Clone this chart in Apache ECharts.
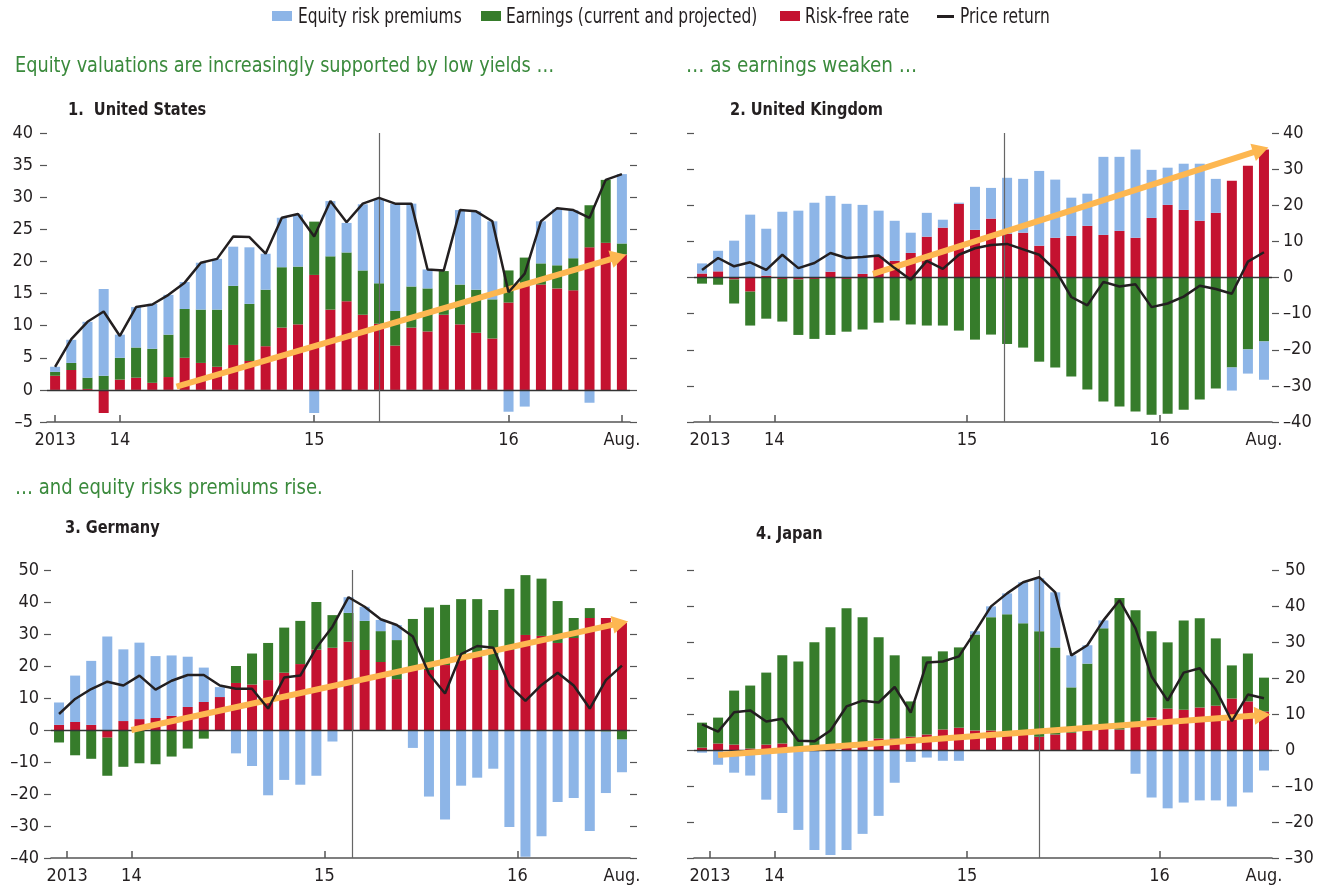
<!DOCTYPE html>
<html>
<head>
<meta charset="utf-8">
<title>Equity valuations</title>
<script src="https://cdn.jsdelivr.net/npm/echarts@6/dist/echarts.min.js"></script>
<style>
  html, body { margin: 0; padding: 0; background: #fff; }
  #chart { width: 1332px; height: 890px; }
</style>
</head>
<body>
<div id="chart"></div>
<script>
const months = [
  'Sep 2013', 'Oct 2013', 'Nov 2013', 'Dec 2013',
  'Jan 2014', 'Feb 2014', 'Mar 2014', 'Apr 2014', 'May 2014', 'Jun 2014',
  'Jul 2014', 'Aug 2014', 'Sep 2014', 'Oct 2014', 'Nov 2014', 'Dec 2014',
  'Jan 2015', 'Feb 2015', 'Mar 2015', 'Apr 2015', 'May 2015', 'Jun 2015',
  'Jul 2015', 'Aug 2015', 'Sep 2015', 'Oct 2015', 'Nov 2015', 'Dec 2015',
  'Jan 2016', 'Feb 2016', 'Mar 2016', 'Apr 2016', 'May 2016', 'Jun 2016',
  'Jul 2016', 'Aug 2016'
]
const tickLabels = ['2013', '14', '15', '16', 'Aug.']

// United States
const usRiskFree = [2.2, 3.1, 0.15, -3.6, 1.6, 1.9, 1.1, 2.0, 5.0, 4.2, 3.6, 7.0, 4.5, 6.8, 9.7, 10.2, 17.9, 12.5,
  13.8, 11.7, 10.3, 6.9, 9.7, 9.1, 11.7, 10.2, 8.9, 8.0, 13.6, 16.2, 16.4, 15.8, 15.5, 22.2, 22.9, 21.1]
const usEarnings = [0.6, 1.1, 1.75, 2.2, 3.4, 4.7, 5.3, 6.6, 7.6, 8.3, 8.9, 9.2, 8.9, 8.8, 9.4, 9.0, 8.3, 8.3,
  7.6, 6.9, 6.3, 5.4, 6.4, 6.7, 6.8, 6.2, 6.7, 6.1, 5.0, 4.4, 3.3, 3.6, 5.0, 6.55, 9.8, 1.7]
const usPremium = [0.8, 3.6, 8.7, 13.5, 3.6, 6.3, 7.0, 6.2, 4.2, 7.3, 7.9, 6.1, 8.8, 5.6, 7.7, 8.1, -3.6, 8.6,
  4.6, 10.3, 13.1, 16.7, 12.9, 2.95, 0, 11.6, 12.2, 12.15, -3.4, -2.6, 6.55, 8.7, 7.5, -2.0, 0, 10.8]
const usPrice = [3.6, 7.9, 10.6, 12.2, 8.4, 12.9, 13.3, 14.8, 16.7, 19.8, 20.4, 23.9, 23.8, 21.2, 26.8, 27.4, 23.9, 29.4,
  26.1, 29.0, 29.9, 29.0, 29.0, 18.75, 18.6, 28.0, 27.8, 26.25, 15.2, 18.1, 26.25, 28.3, 28.0, 26.8, 32.7, 33.6]

// United Kingdom
const ukRiskFree = [1.1, 1.7, -0.55, -3.9, 0.5, -0.4, -0.55, -0.4, 1.6, -0.4, 1.0, 5.8, 4.6, 6.8, 11.3, 13.8, 20.4, 13.2,
  16.3, 12.1, 12.4, 8.8, 11.0, 11.5, 14.3, 11.8, 12.9, 11.0, 16.5, 20.1, 18.7, 15.7, 17.9, 26.8, 30.9, 35.4]
const ukEarnings = [-1.7, -2.0, -6.65, -9.4, -11.4, -11.8, -15.35, -16.6, -15.9, -14.6, -14.4, -12.5, -11.9, -13.0, -13.3, -13.3, -14.7, -17.2,
  -15.8, -18.4, -19.4, -23.3, -24.9, -27.4, -31.0, -34.3, -35.7, -37.1, -38.0, -37.7, -36.6, -33.8, -30.7, -24.9, -19.9, -17.7]
const ukPremium = [2.8, 5.7, 10.2, 17.4, 13.0, 18.2, 18.5, 20.7, 21.0, 20.4, 19.1, 12.7, 11.1, 5.6, 6.6, 2.2, 0.3, 11.9,
  8.5, 15.5, 14.9, 20.7, 16.1, 10.6, 8.9, 21.6, 20.5, 24.4, 13.3, 10.3, 12.8, 15.8, 9.4, -6.4, -6.7, -10.6]
const ukPrice = [2.1, 5.4, 3.1, 4.2, 2.1, 6.3, 2.6, 4.0, 6.8, 5.4, 5.7, 6.1, 2.6, -0.6, 4.6, 2.4, 6.3, 8.1,
  9.0, 9.3, 7.8, 6.3, 2.1, -5.4, -7.7, -1.2, -2.5, -1.9, -8.2, -7.2, -5.3, -2.3, -3.2, -4.5, 4.4, 7.0]

// Germany
const deRiskFree = [1.6, 2.5, 1.6, -2.4, 2.8, 3.4, 3.75, 4.4, 7.2, 8.75, 10.3, 14.7, 14.2, 15.6, 17.9, 20.6, 25.1, 25.7,
  27.6, 25.0, 21.25, 15.9, 18.75, 18.75, 20.3, 23.4, 22.8, 18.75, 25.0, 29.7, 29.4, 27.2, 28.75, 35.0, 35.0, 33.4]
const deEarnings = [-3.9, -7.9, -9.0, -11.9, -11.5, -10.4, -10.7, -8.3, -5.8, -2.7, 0, 5.3, 9.7, 11.6, 14.1, 13.5, 14.9, 10.2,
  9.0, 9.1, 9.65, 12.2, 15.95, 19.55, 18.8, 17.5, 18.1, 18.75, 19.1, 18.7, 17.9, 13.1, 6.25, 3.1, -0.5, -3.0]
const dePremium = [7.0, 14.5, 20.0, 29.2, 22.4, 23.9, 19.35, 18.9, 15.7, 10.75, 3.1, -7.3, -11.25, -20.4, -15.6, -17.1, -14.3, -3.6,
  4.9, 4.4, 3.5, 4.7, -5.6, -20.8, -28.0, -17.4, -14.9, -12.1, -30.3, -39.6, -33.2, -22.5, -21.25, -31.6, -19.2, -10.2]
const dePrice = [5.0, 9.7, 12.8, 15.1, 13.9, 17.0, 12.6, 15.4, 17.2, 17.2, 13.9, 12.9, 12.9, 6.7, 16.4, 17.0, 25.7, 32.3,
  41.5, 38.5, 34.6, 32.8, 29.2, 17.6, 11.4, 23.75, 26.25, 25.7, 13.9, 9.1, 14.1, 17.9, 13.9, 6.7, 15.6, 20.1]

// Japan
const jpRiskFree = [0.65, 1.8, 1.5, 0.4, 1.5, 1.8, 0.2, 0.2, 0.9, 1.2, 1.5, 3.2, 3.2, 3.7, 4.3, 5.7, 6.2, 5.4,
  5.4, 4.0, 4.3, 3.7, 4.3, 4.8, 5.4, 5.9, 5.7, 6.8, 9.0, 11.5, 11.2, 11.8, 12.3, 14.3, 13.5, 10.7]
const jpEarnings = [6.95, 7.2, 15.0, 17.5, 20.0, 24.5, 24.4, 29.7, 33.2, 38.2, 35.4, 28.1, 23.1, 9.8, 21.7, 21.7, 22.3, 26.7,
  31.5, 33.7, 30.9, 29.3, 24.2, 12.6, 18.6, 27.9, 36.5, 32.0, 24.0, 18.4, 24.8, 24.8, 18.7, 9.2, 13.3, 9.4]
const jpPremium = [-0.75, -4.1, -6.3, -7.1, -13.8, -17.5, -22.2, -27.8, -29.2, -27.8, -23.3, -18.3, -9.1, -3.3, -2.1, -3.0, -3.0, 0.9,
  3.0, 5.8, 11.4, 14.7, 15.3, 8.9, 5.1, 2.2, 0, -6.6, -13.2, -16.2, -14.6, -14.0, -14.0, -15.7, -11.8, -5.7]
const jpPrice = [7.1, 5.1, 10.5, 11.0, 7.9, 8.7, 2.6, 2.4, 5.4, 12.1, 13.7, 13.2, 17.5, 10.4, 24.3, 24.6, 26.0, 32.8,
  39.9, 43.5, 46.6, 48.0, 43.8, 26.3, 29.1, 36.0, 41.6, 33.8, 20.4, 13.7, 21.5, 22.7, 16.8, 8.0, 15.4, 14.4]

// trend arrows [start, end] in (month index, percent) and event line position
const usArrow = [[7.5, 0.5], [34.8, 20.7]]
const ukArrow = [[10.65, 1.0], [34.8, 35.3]]
const deArrow = [[4.5, 0], [34.9, 33.4]]
const jpArrow = [[1.0, -1.4], [34.9, 9.7]]
const eventLine = [20, 18.8, 18.2, 21]

const FONT = "'DejaVu Sans Condensed', 'DejaVu Sans', sans-serif"
const INK = '#231f20'
const AXIS = '#555555'
const BLUE = '#8db5e7'
const GREEN = '#367c2b'
const RED = '#c41230'
const ORANGE = '#fdb751'
const HEAD = '#3a8a3c'

const panels = [
  { title: '1.  United States', riskFree: usRiskFree, earnings: usEarnings, premium: usPremium, price: usPrice,
    arrow: usArrow, min: -5, max: 40, interval: 5, side: 'left', labelMargin: 14,
    grid: { left: 47, top: 133, width: 583, height: 289 }, titlePos: [68, 110],
    tickPos: [0, 4, 16, 28, 35], labelPos: [0, 4, 16, 28, 35] },
  { title: '2. United Kingdom', riskFree: ukRiskFree, earnings: ukEarnings, premium: ukPremium, price: ukPrice,
    arrow: ukArrow, min: -40, max: 40, interval: 10, side: 'right', labelMargin: 11,
    grid: { left: 694, top: 133, width: 578, height: 289 }, titlePos: [730, 110],
    tickPos: [0.5, 4.5, 16.5, 28.5], labelPos: [0.5, 4.5, 16.5, 28.5, 35] },
  { title: '3. Germany', riskFree: deRiskFree, earnings: deEarnings, premium: dePremium, price: dePrice,
    arrow: deArrow, min: -40, max: 50, interval: 10, side: 'left', labelMargin: 12,
    grid: { left: 51, top: 570, width: 579, height: 288 }, titlePos: [65, 528],
    tickPos: [0.5, 4.5, 16.5, 28.5], labelPos: [0.5, 4.5, 16.5, 28.5, 35] },
  { title: '4. Japan', riskFree: jpRiskFree, earnings: jpEarnings, premium: jpPremium, price: jpPrice,
    arrow: jpArrow, min: -30, max: 50, interval: 10, side: 'right', labelMargin: 13,
    grid: { left: 694, top: 570, width: 578, height: 288 }, titlePos: [756, 534],
    tickPos: [0.5, 4.5, 16.5, 28.5], labelPos: [0.5, 4.5, 16.5, 28.5, 35] }
]

function fmtY(v) {
  return v < 0 ? '\u2013' + (-v) : String(v)
}

const grids = []
const xAxes = []
const yAxes = []
const series = []

panels.forEach((p, i) => {
  grids.push(p.grid)

  xAxes.push({
    type: 'category', gridIndex: i, data: months, boundaryGap: true, show: false
  })
  xAxes.push({
    type: 'value', gridIndex: i, min: -0.5, max: 35.5, position: 'bottom',
    splitLine: { show: false },
    axisLine: { show: true, onZero: false, lineStyle: { color: AXIS, width: 1.5 } },
    axisTick: { show: true, inside: true, length: 7, customValues: p.tickPos, lineStyle: { color: AXIS, width: 1.5 } },
    axisLabel: {
      customValues: p.labelPos, color: INK, fontFamily: FONT, fontSize: 18, margin: 9,
      formatter: (v) => {
        const k = p.labelPos.findIndex(x => Math.abs(x - v) < 1e-6)
        return k >= 0 ? tickLabels[k] : ''
      }
    }
  })

  const other = p.side === 'left' ? 'right' : 'left'
  yAxes.push({
    type: 'value', gridIndex: i, position: p.side, min: p.min, max: p.max, interval: p.interval,
    splitLine: { show: false },
    axisLine: { show: false, onZero: false },
    axisTick: { show: true, length: 7, lineStyle: { color: AXIS, width: 1.2 } },
    axisLabel: { color: INK, fontFamily: FONT, fontSize: 18, margin: p.labelMargin, formatter: fmtY }
  })
  yAxes.push({
    type: 'value', gridIndex: i, position: other, min: p.min, max: p.max, interval: p.interval,
    splitLine: { show: false },
    axisLine: { show: false, onZero: false },
    axisTick: { show: true, length: 7, lineStyle: { color: AXIS, width: 1.2 } },
    axisLabel: { show: false }
  })

  const xCat = 2 * i
  const xVal = 2 * i + 1
  const yIdx = 2 * i
  const stack = 'p' + i

  series.push({
    name: 'Risk-free rate', type: 'bar', xAxisIndex: xCat, yAxisIndex: yIdx, stack,
    barWidth: 10, itemStyle: { color: RED }, data: p.riskFree
  })
  series.push({
    name: 'Earnings (current and projected)', type: 'bar', xAxisIndex: xCat, yAxisIndex: yIdx, stack,
    barWidth: 10, itemStyle: { color: GREEN }, data: p.earnings
  })
  series.push({
    name: 'Equity risk premiums', type: 'bar', xAxisIndex: xCat, yAxisIndex: yIdx, stack,
    barWidth: 10, itemStyle: { color: BLUE }, data: p.premium
  })

  // zero line and event line
  series.push({
    type: 'line', xAxisIndex: xVal, yAxisIndex: yIdx, data: [], silent: true, z: 3,
    markLine: {
      silent: true, symbol: ['none', 'none'], label: { show: false }, animation: false,
      data: [
        { yAxis: 0, lineStyle: { color: '#333', width: 1.3, type: 'solid' } },
        { xAxis: eventLine[i], lineStyle: { color: '#666', width: 1.2, type: 'solid' } }
      ]
    }
  })

  // orange trend arrow
  series.push({
    type: 'line', xAxisIndex: xVal, yAxisIndex: yIdx, data: p.arrow, silent: true, z: 4,
    symbol: 'none', lineStyle: { opacity: 0 },
    markLine: {
      silent: true, symbol: ['none', 'triangle'], symbolSize: [18, 16], label: { show: false }, animation: false,
      lineStyle: { color: ORANGE, width: 6, type: 'solid', opacity: 1 },
      data: [[{ coord: p.arrow[0] }, { coord: p.arrow[1] }]]
    }
  })

  series.push({
    name: 'Price return', type: 'line', xAxisIndex: xCat, yAxisIndex: yIdx, z: 5,
    symbol: 'none', lineStyle: { color: INK, width: 2.5 }, data: p.price
  })
})

// condensed-looking text: scale glyphs horizontally
function label(text, x, y, size, color, weight, sx) {
  return {
    type: 'text', x, y, scaleX: sx, silent: true,
    style: { text, fill: color, fontSize: size, fontFamily: FONT, fontWeight: weight, verticalAlign: 'middle' }
  }
}

const graphics = [
  label('Equity valuations are increasingly supported by low yields \u2026', 15, 66, 22, HEAD, 'normal', 0.895),
  label('\u2026 as earnings weaken \u2026', 686, 66, 22, HEAD, 'normal', 0.93),
  label('\u2026 and equity risks premiums rise.', 15, 488, 22, HEAD, 'normal', 0.91)
]
panels.forEach(p => {
  graphics.push(label(p.title, p.titlePos[0], p.titlePos[1], 18, INK, 'bold', 0.9))
})

// legend
const legendItems = [
  { name: 'Equity risk premiums', color: BLUE, x: 272, tx: 298 },
  { name: 'Earnings (current and projected)', color: GREEN, x: 481, tx: 506 },
  { name: 'Risk-free rate', color: RED, x: 780, tx: 805 },
  { name: 'Price return', color: INK, x: 937, tx: 960, line: true }
]
legendItems.forEach(it => {
  if (it.line) {
    graphics.push({ type: 'rect', silent: true, shape: { x: it.x, y: 15, width: 17, height: 3 }, style: { fill: it.color } })
  } else {
    graphics.push({ type: 'rect', silent: true, shape: { x: it.x, y: 11, width: 20, height: 10 }, style: { fill: it.color } })
  }
  graphics.push(label(it.name, it.tx, 17, 22, INK, 'normal', 0.78))
})

const option = {
  animation: false,
  backgroundColor: '#ffffff',
  graphic: graphics,
  grid: grids,
  xAxis: xAxes,
  yAxis: yAxes,
  series
}

const chart = echarts.init(document.getElementById('chart'))
chart.setOption(option)
window.addEventListener('resize', () => chart.resize())
</script>
</body>
</html>
